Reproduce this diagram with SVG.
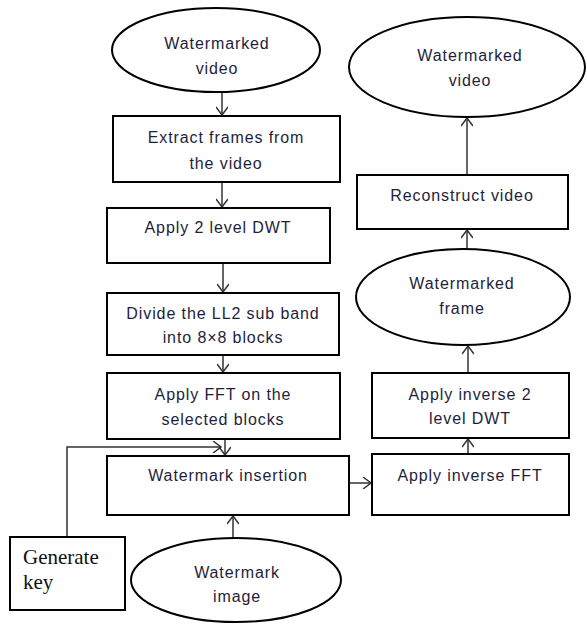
<svg xmlns="http://www.w3.org/2000/svg" width="587" height="628" viewBox="0 0 587 628">
<defs>
<style>
.n{fill:#fff;stroke:#000;stroke-width:2}
.t{font-family:"Liberation Sans",Arial,sans-serif;font-size:16px;letter-spacing:0.9px;fill:#1e1e3c;text-anchor:middle}
.s{font-family:"Liberation Serif","Times New Roman",serif;font-size:21px;fill:#111}
.c{fill:none;stroke:#333;stroke-width:1.5}
</style>
<marker id="a" markerWidth="12" markerHeight="12" refX="10" refY="6" orient="auto" markerUnits="userSpaceOnUse">
<path d="M2,0 L10,6 L2,12" fill="none" stroke="#333" stroke-width="1.5"/>
</marker>
</defs>
<rect width="587" height="628" fill="#fff"/>
<g id="connectors">
<line class="c" x1="222" y1="92" x2="222" y2="115" marker-end="url(#a)"/>
<line class="c" x1="222" y1="182" x2="222" y2="207" marker-end="url(#a)"/>
<line class="c" x1="223" y1="263" x2="223" y2="292" marker-end="url(#a)"/>
<line class="c" x1="223" y1="355" x2="223" y2="372" marker-end="url(#a)"/>
<line class="c" x1="225" y1="439" x2="225" y2="455" marker-end="url(#a)"/>
<polyline class="c" points="67,537 67,447 221,447" marker-end="url(#a)"/>
<line class="c" x1="233" y1="538" x2="233" y2="516" marker-end="url(#a)"/>
<line class="c" x1="349" y1="483" x2="371" y2="483" marker-end="url(#a)"/>
<line class="c" x1="468" y1="454" x2="468" y2="439" marker-end="url(#a)"/>
<line class="c" x1="468" y1="373" x2="468" y2="346" marker-end="url(#a)"/>
<line class="c" x1="467" y1="248" x2="467" y2="230" marker-end="url(#a)"/>
<line class="c" x1="467" y1="175" x2="467" y2="118" marker-end="url(#a)"/>
</g>
<g id="wm-video-in">
<ellipse class="n" cx="216" cy="50" rx="104" ry="42"/>
<text class="t" x="217" y="49">Watermarked</text>
<text class="t" x="217" y="74">video</text>
</g>
<g id="extract">
<rect class="n" x="113" y="116" width="227" height="66"/>
<text class="t" x="226" y="143">Extract frames from</text>
<text class="t" x="226" y="169">the video</text>
</g>
<g id="dwt">
<rect class="n" x="107" y="208" width="223" height="55"/>
<text class="t" x="218" y="233">Apply 2 level DWT</text>
</g>
<g id="divide">
<rect class="n" x="107" y="293" width="232" height="62"/>
<text class="t" x="223" y="319">Divide the LL2 sub band</text>
<text class="t" x="223" y="343">into 8×8 blocks</text>
</g>
<g id="fft">
<rect class="n" x="107" y="373" width="233" height="66"/>
<text class="t" x="223" y="400">Apply FFT on the</text>
<text class="t" x="223" y="425">selected blocks</text>
</g>
<g id="insertion">
<rect class="n" x="107" y="456" width="242" height="59"/>
<text class="t" x="228" y="481">Watermark insertion</text>
</g>
<g id="genkey">
<rect class="n" x="10" y="537" width="115" height="73"/>
<text class="s" x="23" y="564">Generate</text>
<text class="s" x="23" y="589">key</text>
</g>
<g id="wm-image">
<ellipse class="n" cx="236" cy="580" rx="105" ry="42"/>
<text class="t" x="237" y="578">Watermark</text>
<text class="t" x="237" y="602">image</text>
</g>
<g id="ifft">
<rect class="n" x="372" y="454" width="197" height="61"/>
<text class="t" x="470" y="481">Apply inverse FFT</text>
</g>
<g id="idwt">
<rect class="n" x="372" y="373" width="197" height="65"/>
<text class="t" x="470" y="400">Apply inverse 2</text>
<text class="t" x="470" y="424">level DWT</text>
</g>
<g id="wm-frame">
<ellipse class="n" cx="463" cy="297" rx="107" ry="48"/>
<text class="t" x="462" y="289">Watermarked</text>
<text class="t" x="462" y="314">frame</text>
</g>
<g id="reconstruct">
<rect class="n" x="357" y="175" width="211" height="54"/>
<text class="t" x="462" y="201">Reconstruct video</text>
</g>
<g id="wm-video-out">
<ellipse class="n" cx="467" cy="67" rx="118" ry="50"/>
<text class="t" x="470" y="61">Watermarked</text>
<text class="t" x="470" y="86">video</text>
</g>
</svg>
